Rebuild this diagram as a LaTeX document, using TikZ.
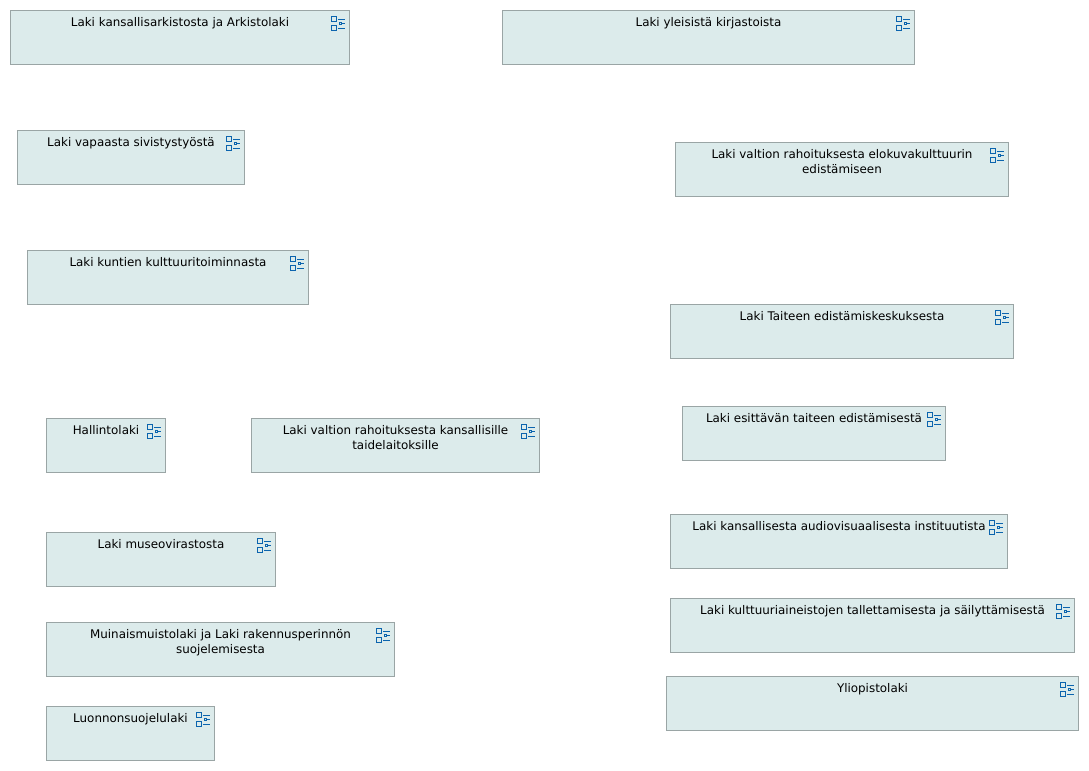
\documentclass[tikz,border=0pt]{standalone}
\usepackage{fontspec}
\setmainfont{DejaVu Sans}
\definecolor{boxfill}{HTML}{DCEBEB}
\definecolor{boxline}{HTML}{9AA5A5}
\definecolor{iconblue}{HTML}{0B64AE}
\tikzset{
  lawbox/.style={draw=boxline,fill=boxfill,line width=0.75pt,inner sep=0pt,outer sep=0pt},
  lawtext/.style={font=\fontsize{8.93pt}{11.25pt}\selectfont,text=black,align=center,inner sep=0pt,anchor=base},
  iconpart/.style={draw=iconblue,line width=0.75pt},
  iconline/.style={draw=iconblue,line width=0.5pt}
}
\newcommand{\lawitem}[6]{%
  \path let \n1={#2},\n2={#3},\n3={#4},\n4={#5} in
    node[lawbox,minimum width={(\n3-\n1)*0.75pt},minimum height={(\n4-\n2)*0.75pt},anchor=north west] (#1) at (\n1,\n2) {};
  \node[lawtext,anchor=north] (#1t) at ([yshift=-5.1pt]#1.north) {#6};
  \begin{scope}[shift={(#1.north east)}]
    \draw[iconpart] (-18.2,5.8) rectangle (-12.8,11.2);
    \draw[iconpart] (-18.2,14.8) rectangle (-12.8,20.2);
    \draw[iconline] (-11.5,8.5) -- (-4.5,8.5);
    \draw[iconline] (-11.5,17.5) -- (-4.5,17.5);
    \draw[iconline] (-10,12) rectangle (-8,14);
    \draw[iconline] (-8,13) -- (-4.5,13);
  \end{scope}
}
\usetikzlibrary{calc}
\begin{document}
\begin{tikzpicture}[x=0.75pt,y=-0.75pt]
\useasboundingbox (0,0) rectangle (1089,771);
\lawitem{a}{10.5}{10.5}{349.5}{64.5}{Laki kansallisarkistosta ja Arkistolaki}
\lawitem{b}{502.5}{10.5}{914.5}{64.5}{Laki yleisistä kirjastoista}
\lawitem{c}{17.5}{130.5}{244.5}{184.5}{Laki vapaasta sivistystyöstä}
\lawitem{d}{675.5}{142.5}{1008.5}{196.5}{Laki valtion rahoituksesta elokuvakulttuurin\\edistämiseen}
\lawitem{e}{27.5}{250.5}{308.5}{304.5}{Laki kuntien kulttuuritoiminnasta}
\lawitem{f}{670.5}{304.5}{1013.5}{358.5}{Laki Taiteen edistämiskeskuksesta}
\lawitem{g}{682.5}{406.5}{945.5}{460.5}{Laki esittävän taiteen edistämisestä}
\lawitem{h}{46.5}{418.5}{165.5}{472.5}{Hallintolaki}
\lawitem{i}{251.5}{418.5}{539.5}{472.5}{Laki valtion rahoituksesta kansallisille\\taidelaitoksille}
\lawitem{j}{670.5}{514.5}{1007.5}{568.5}{Laki kansallisesta audiovisuaalisesta instituutista}
\lawitem{k}{46.5}{532.5}{275.5}{586.5}{Laki museovirastosta}
\lawitem{l}{670.5}{598.5}{1074.5}{652.5}{Laki kulttuuriaineistojen tallettamisesta ja säilyttämisestä}
\lawitem{m}{46.5}{622.5}{394.5}{676.5}{Muinaismuistolaki ja Laki rakennusperinnön\\suojelemisesta}
\lawitem{n}{666.5}{676.5}{1078.5}{730.5}{Yliopistolaki}
\lawitem{o}{46.5}{706.5}{214.5}{760.5}{Luonnonsuojelulaki}
\end{tikzpicture}
\end{document}
